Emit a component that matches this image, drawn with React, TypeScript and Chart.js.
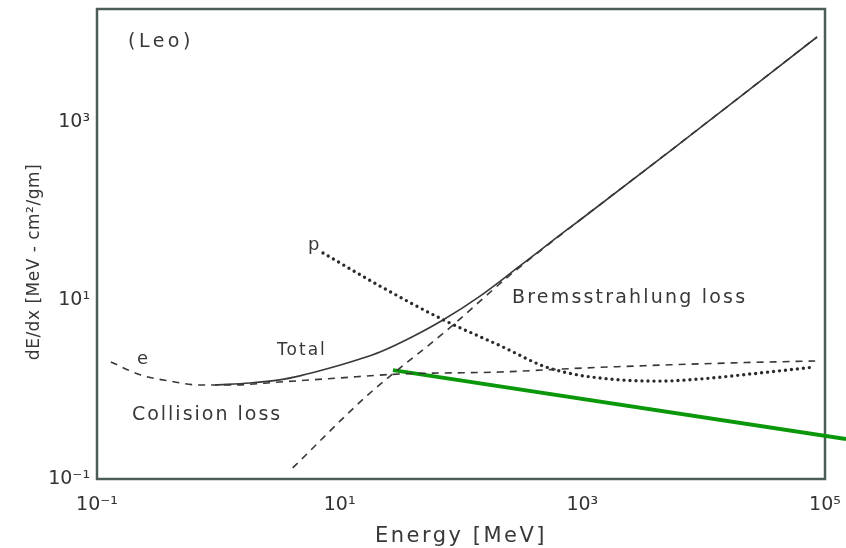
import React, { useEffect, useRef } from "react";
import { Chart, registerables } from "chart.js";

Chart.register(...registerables);

// ---- data ----
const collisionEnergy = [0.13, 0.23, 0.4, 0.7, 1.25, 3.2, 9.5, 31, 210, 1000, 17500, 83000];
const collisionLoss = [2.05, 1.46, 1.25, 1.13, 1.13, 1.22, 1.35, 1.5, 1.58, 1.75, 2.0, 2.1];

const totalEnergy = [0.94, 1.82, 3.2, 4.7, 8.3, 14.7, 21.5, 38, 71, 143.5, 306, 655, 957, 5280, 85900];
const totalLoss = [1.13, 1.19, 1.29, 1.43, 1.75, 2.21, 2.65, 3.8, 6.04, 11.2, 24.4, 54.2, 79.8, 473, 8960];

const bremsEnergy = [4.1, 17, 77, 254, 957, 5280, 85900];
const bremsLoss = [0.133, 0.87, 4.67, 19.3, 79.8, 473, 8960];

const protonEnergy = [7.29, 21.5, 71, 222, 474, 838, 2050, 4370, 9330, 24100, 82800];
const protonLoss = [34.1, 14.5, 6.1, 3.01, 1.85, 1.5, 1.29, 1.25, 1.32, 1.5, 1.8];

const greenEnergy = [27.5, 149000];
const greenLoss = [1.66, 0.28];

const xTickValues = [0.1, 10, 1000, 100000];
const xTickLabels = ["10⁻¹", "10¹", "10³", "10⁵"];
const yTickValues = [0.1, 10, 1000];
const yTickLabels = ["10⁻¹", "10¹", "10³"];

const xTitle = "Energy [MeV]";
const yTitle = "dE/dx [MeV - cm²/gm]";

const annotationTexts = ["(Leo)", "e", "Total", "Collision loss", "p", "Bremsstrahlung loss"];
const annotationEnergy = [0.18, 0.214, 3.05, 0.194, 5.48, 263];
const annotationLoss = [7870, 2.21, 2.72, 0.52, 41.9, 10.7];
const annotationSizes = [19, 18, 17, 19, 18, 19];
const annotationSpacing = [3.5, 2, 2, 2, 2, 2.2];

const INK = "#383838";
const FONT = "'DejaVu Sans', sans-serif";

const toPoints = (xs: number[], ys: number[]) => xs.map((x, i) => ({ x, y: ys[i] }));

const overlayPlugin = {
  id: "overlay",
  beforeDatasetsDraw(chart: any) {
    const { ctx, chartArea: a } = chart;
    ctx.save();
    ctx.strokeStyle = "#4c5c56";
    ctx.lineWidth = 2.5;
    ctx.strokeRect(a.left, a.top, a.right - a.left, a.bottom - a.top);
    ctx.restore();
  },
  afterDraw(chart: any) {
    const { ctx, chartArea: a, scales } = chart;
    ctx.save();
    ctx.fillStyle = INK;
    ctx.textBaseline = "middle";
    ctx.textAlign = "left";
    annotationTexts.forEach((t, i) => {
      (ctx as any).letterSpacing = `${annotationSpacing[i]}px`;
      ctx.font = `${annotationSizes[i]}px ${FONT}`;
      const px = scales.x.getPixelForValue(annotationEnergy[i]);
      const py = scales.y.getPixelForValue(annotationLoss[i]);
      ctx.fillText(t, px, py);
    });
    // axis titles
    ctx.textAlign = "center";
    (ctx as any).letterSpacing = "2.5px";
    ctx.font = `21px ${FONT}`;
    ctx.fillText(xTitle, (a.left + a.right) / 2, chart.height - 11);
    (ctx as any).letterSpacing = "0.5px";
    ctx.font = `17px ${FONT}`;
    ctx.translate(35, (a.top + a.bottom) / 2 + 18);
    ctx.rotate(-Math.PI / 2);
    ctx.fillText(yTitle, 0, 0);
    ctx.restore();
  },
};

export default function App() {
  const ref = useRef<HTMLCanvasElement>(null);

  useEffect(() => {
    if (!ref.current) return;
    const dashed = { borderColor: INK, borderWidth: 1.6, borderDash: [7, 6], pointRadius: 0, cubicInterpolationMode: "monotone" as const, fill: false };
    const chart = new Chart(ref.current, {
      type: "line",
      data: {
        datasets: [
          { label: "Collision loss", data: toPoints(collisionEnergy, collisionLoss), ...dashed },
          { label: "Bremsstrahlung loss", data: toPoints(bremsEnergy, bremsLoss), ...dashed },
          {
            label: "Total",
            data: toPoints(totalEnergy, totalLoss),
            borderColor: INK,
            borderWidth: 1.6,
            pointRadius: 0,
            cubicInterpolationMode: "monotone",
            fill: false,
          },
          {
            label: "p",
            data: toPoints(protonEnergy, protonLoss),
            borderColor: "#2a2a2a",
            borderWidth: 3.4,
            borderDash: [0, 6],
            borderCapStyle: "round",
            pointRadius: 0,
            cubicInterpolationMode: "monotone",
            fill: false,
          },
          {
            label: "green",
            data: toPoints(greenEnergy, greenLoss),
            borderColor: "#0a980a",
            borderWidth: 4,
            pointRadius: 0,
            fill: false,
            clip: false,
          } as any,
        ],
      },
      options: {
        responsive: false,
        animation: false,
        devicePixelRatio: 1,
        events: [],
        layout: { padding: { top: 9, right: 21, left: 0, bottom: 0 } },
        plugins: { legend: { display: false }, tooltip: { enabled: false } },
        scales: {
          x: {
            type: "logarithmic",
            min: 0.1,
            max: 100000,
            afterBuildTicks: (s: any) => {
              s.ticks = xTickValues.map((v) => ({ value: v }));
            },
            afterFit: (s: any) => {
              s.height = 69;
              s.paddingLeft = 0;
              s.paddingRight = 0;
            },
            ticks: {
              callback: (_v: any, i: number) => xTickLabels[i],
              font: { family: FONT, size: 19 },
              color: "#333",
              padding: 15,
              autoSkip: false,
              maxRotation: 0,
            },
            grid: { display: false, drawTicks: false },
            border: { display: false },
          },
          y: {
            type: "logarithmic",
            min: 0.1,
            max: 18450,
            afterBuildTicks: (s: any) => {
              s.ticks = yTickValues.map((v) => ({ value: v }));
            },
            afterFit: (s: any) => {
              s.width = 97;
              s.paddingTop = 0;
              s.paddingBottom = 0;
            },
            ticks: {
              callback: (_v: any, i: number) => yTickLabels[i],
              font: { family: FONT, size: 19 },
              color: "#333",
              padding: 7,
              autoSkip: false,
            },
            grid: { display: false, drawTicks: false },
            border: { display: false },
          },
        },
      },
      plugins: [overlayPlugin],
    });
    return () => chart.destroy();
  }, []);

  return (
    <div style={{ position: "fixed", left: 0, top: 0, width: 846, height: 548, background: "#fff" }}>
      <canvas ref={ref} width={846} height={548} style={{ display: "block", width: 846, height: 548 }} />
    </div>
  );
}
